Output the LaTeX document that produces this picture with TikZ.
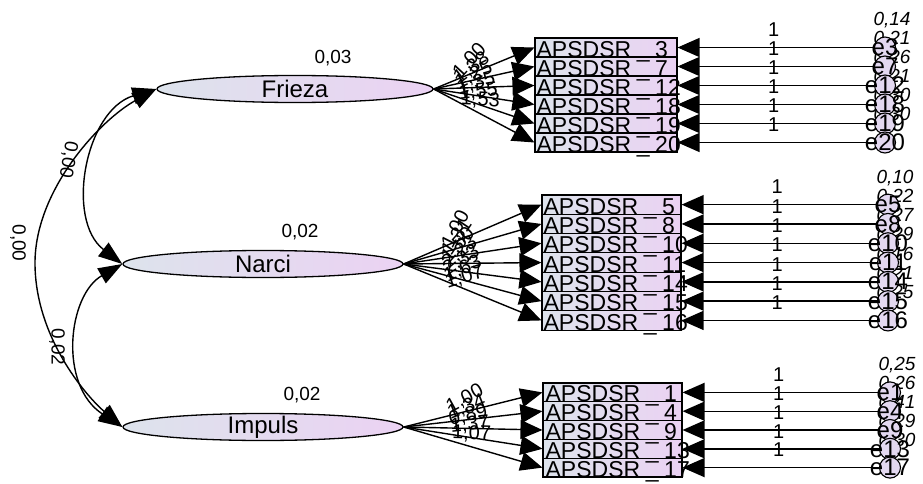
\documentclass[tikz,border=0pt]{standalone}
\usepackage{fontspec}
\setmainfont{Liberation Sans}
\usetikzlibrary{arrows.meta,shapes.geometric}
\definecolor{shadeL}{HTML}{DDE3EC}
\definecolor{shadeR}{HTML}{EBD2F3}
\definecolor{errfill}{HTML}{E3D8F0}
\newcommand\fsz[1]{\fontsize{#1}{#1}\selectfont}
\newcommand\indname[1]{APSDSR\makebox[24pt]{\_}#1}
\begin{document}
\begin{tikzpicture}[x=1pt,y=-1pt,
  latent/.style={ellipse, draw=black, line width=1.3pt, left color=shadeL, right color=shadeR,
                 minimum height=27pt, inner sep=0pt},
  lvname/.style={font=\fsz{24}, inner sep=0pt},
  obs/.style={rectangle, draw=black, line width=1.1pt, left color=shadeL, right color=shadeR, inner sep=0pt},
  ind/.style={font=\fsz{23}, inner sep=0pt},
  err/.style={circle, draw=black, line width=1.1pt, fill=errfill, minimum size=21pt, inner sep=0pt},
  ename/.style={font=\fsz{24}, inner sep=0pt},
  var/.style={font=\fsz{19}\itshape, inner sep=0pt},
  num/.style={font=\fsz{19}, inner sep=0pt},
  one/.style={font=\fsz{20}, inner sep=0pt, above=10pt},
  load/.style={font=\fsz{20}, inner sep=0pt},
  headR/.tip={Triangle[length=22pt,width=19pt]},
  headC/.tip={Triangle[length=24pt,width=17pt]},
  reg/.style={line width=1.4pt, -headR},
  cov/.style={line width=1.4pt, headC-headC}
]
\useasboundingbox (0,0) rectangle (923,484);

% ---------- latent factors ----------
\node[latent, minimum width=276pt] (fr) at (295,89) {};
\node[latent, minimum width=280pt] (na) at (263,264) {};
\node[latent, minimum width=280pt] (im) at (263,427) {};
\node[lvname] (frT) at (fr.center) {Frieza};
\node[lvname] (naT) at (na.center) {Narci};
\node[lvname] (imT) at (im.center) {Impuls};
\node[num] (frV) at (333,58) {0,03};
\node[num] (naV) at (300,232) {0,02};
\node[num] (imV) at (302,395) {0,02};

% ---------- indicator boxes ----------
\foreach \i in {1,...,6}
  \node[obs, minimum width=142pt, minimum height=19pt] (F\i) at (606,{38+19*(\i-0.5)}) {};
\foreach \n [count=\i] in {3,7,12,18,19,20}
  \path (F\i.south west) ++(2,-0.5) node[ind, anchor=base west] (tF\i) {\indname{\n}};

\foreach \i in {1,...,7}
  \node[obs, minimum width=139pt, minimum height=19.3pt] (N\i) at (611.5,{195+19.3*(\i-0.5)}) {};
\foreach \n [count=\i] in {5,8,10,11,14,15,16}
  \path (N\i.south west) ++(2,-0.5) node[ind, anchor=base west] (tN\i) {\indname{\n}};

\foreach \i in {1,...,5}
  \node[obs, minimum width=139pt, minimum height=18.8pt] (I\i) at (612.5,{383+18.8*(\i-0.5)}) {};
\foreach \n [count=\i] in {1,4,9,13,17}
  \path (I\i.south west) ++(3,-0.5) node[ind, anchor=base west] (tI\i) {\indname{\n}};

% ---------- error terms: variances, circles, names ----------
\foreach \v [count=\i] in {{0,14},{0,21},{0,26},{0,21},{0,30},{0,30}} {
  \coordinate (pF\i) at (885,{38+19*(\i-0.5)});
  \node[var] (vF\i) at ([xshift=7pt,yshift=27pt]pF\i) {\v};
}
\foreach \v [count=\i] in {{0,10},{0,22},{0,27},{0,29},{0,16},{0,21},{0,25}} {
  \coordinate (pN\i) at (888,{195+19.3*(\i-0.5)});
  \node[var] (vN\i) at ([xshift=7pt,yshift=27pt]pN\i) {\v};
}
\foreach \v [count=\i] in {{0,25},{0,26},{0,41},{0,29},{0,30}} {
  \coordinate (pI\i) at (890,{383+18.8*(\i-0.5)});
  \node[var] (vI\i) at ([xshift=7pt,yshift=27pt]pI\i) {\v};
}
\foreach \n [count=\i] in {3,7,12,18,19,20} {
  \node[err] (eF\i) at (pF\i) {};
  \node[ename] (nF\i) at (pF\i) {e\n};
}
\foreach \n [count=\i] in {5,8,10,11,14,15,16} {
  \node[err] (eN\i) at (pN\i) {};
  \node[ename] (nN\i) at (pN\i) {e\n};
}
\foreach \n [count=\i] in {1,4,9,13,17} {
  \node[err] (eI\i) at (pI\i) {};
  \node[ename] (nI\i) at (pI\i) {e\n};
}

% ---------- error -> indicator paths (fixed to 1) ----------
\foreach \i in {1,...,6}
  \draw[reg] (eF\i) -- node[one, pos=0.51] (oF\i) {1} (F\i.east);
\foreach \i in {1,...,7}
  \draw[reg] (eN\i) -- node[one, pos=0.51] (oN\i) {1} (N\i.east);
\foreach \i in {1,...,5}
  \draw[reg] (eI\i) -- node[one, pos=0.51] (oI\i) {1} (I\i.east);

% ---------- factor loadings ----------
\foreach \v [count=\i] in {{1,00},{1,38},{1,25},{1,35},{1,55},{1,53}}
  \draw[reg] (fr.east) -- node[load, pos=0.44, sloped, above=4pt, rotate=25] (lF\i) {\v} (F\i.west);
\foreach \v [count=\i] in {{1,00},{1,31},{1,50},{2,23},{2,33},{1,63},{1,07}}
  \draw[reg] (na.east) -- node[load, pos=0.45, sloped, above=4pt, rotate=40] (lN\i) {\v} (N\i.west);
\foreach \v [count=\i] in {{1,00},{1,34},{0,89},{1,37},{1,07}}
  \draw[reg] (im.east) -- node[load, pos=0.48, sloped, above=4pt, rotate=15] (lI\i) {\v} (I\i.west);

% ---------- factor covariances ----------
\draw[cov] (fr.west) .. controls (100,120) and (35,190) .. (35,263)
                     .. controls (35,336) and (85,395) .. (im.west);
\draw[cov] (fr.west) .. controls (85,110) and (65,220) .. (na.west);
\draw[cov] (na.west) .. controls (68,295) and (58,385) .. (im.west);
\node[num, rotate=-90] (cFI) at (18,243) {0,00};
\node[num, rotate=-100] (cFN) at (68,160) {0,00};
\node[num, rotate=-90] (cNI) at (57,347) {0,02};
\end{tikzpicture}
\end{document}
